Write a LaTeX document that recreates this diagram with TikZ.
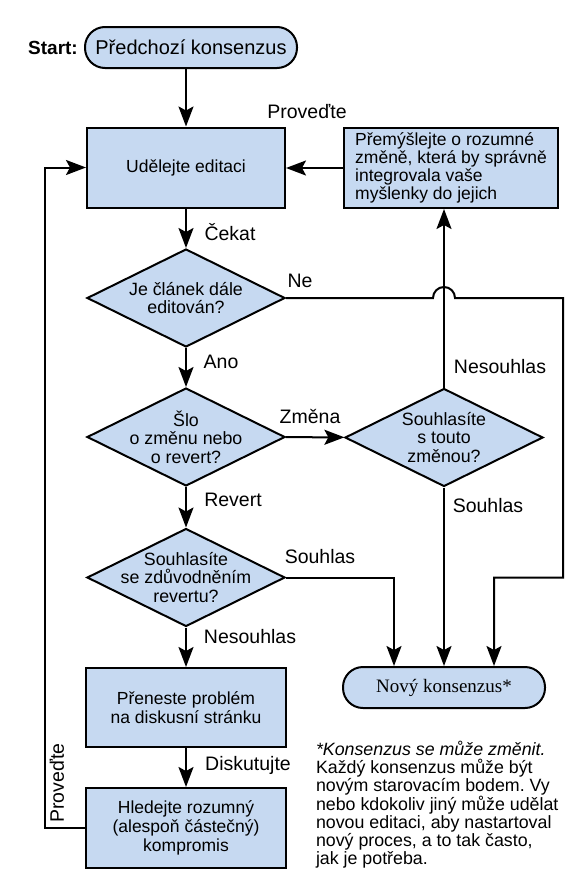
\documentclass[tikz,border=0pt]{standalone}
\usepackage{fontspec}
\setmainfont{Liberation Sans}
\newfontfamily\serifnk{Liberation Serif}
\usetikzlibrary{shapes.geometric,arrows.meta}
\definecolor{boxblue}{RGB}{198,217,241}
\frenchspacing
\begin{document}
\begin{tikzpicture}[x=1pt,y=-1pt,
  line width=2pt,
  box/.style={draw,fill=boxblue,rectangle,minimum width=198pt,minimum height=80pt,inner sep=0pt,align=center,font=\fontsize{17.5}{19}\selectfont},
  term/.style={draw,fill=boxblue,rectangle,rounded corners=20pt,minimum height=41pt,inner sep=0pt},
  dia/.style={draw,fill=boxblue,diamond,minimum width=198pt,minimum height=98pt,inner sep=0pt},
  dtxt/.style={align=center,font=\fontsize{17.8}{18.5}\selectfont,inner sep=0pt},
  lab/.style={font=\fontsize{19.5}{22}\selectfont,inner sep=0pt},
  arr/.style={-{Stealth[length=20pt,width=15pt,inset=4pt]}}]
\useasboundingbox (0,0) rectangle (585,870);

% nodes
\node[font=\bfseries\fontsize{19}{22}\selectfont,inner sep=0pt] (startlab) at (53,48) {Start:};
\node[term,minimum width=212pt,font=\fontsize{20}{22}\selectfont] (st) at (191,47.5) {Předchozí konsenzus};
\node[box] (ud) at (186,167.5) {Udělejte editaci};
\node[box,minimum width=214pt,align=left,font=\fontsize{17.5}{18}\selectfont] (pm) at (451,168) {Přemýšlejte o rozumné\\změně, která by správně\\integrovala vaše\\myšlenky do jejich};
\node[dia] (d1) at (186,298) {};
\node[dtxt] (t1) at (d1) {Je článek dále\\editován?};
\node[dia] (d2) at (186,437) {};
\node[dtxt] (t2) at (d2) {Šlo\\o změnu nebo\\o revert?};
\node[dia] (d3) at (444,437.5) {};
\node[dtxt] (t3) at (d3) {Souhlasíte\\s touto\\změnou?};
\node[dia] (d4) at (186,577.5) {};
\node[dtxt] (t4) at (d4) {Souhlasíte\\se zdůvodněním\\revertu?};
\node[box,minimum width=200pt,minimum height=79pt] (b5) at (186,707.5) {Přeneste problém\\na diskusní stránku};
\node[box,minimum width=200pt] (b6) at (186,828) {Hledejte rozumný\\(alespoň částečný)\\kompromis};
\node[term,minimum width=202pt,font=\fontsize{19}{22}\serifnk] (nk) at (444,687.5) {Nový konsenzus*};
\node[anchor=north west,align=left,inner sep=0pt,font=\fontsize{17.8}{18}\selectfont] (note) at (315,740) {\textit{*Konsenzus se může změnit.}\\Každý konsenzus může být\\novým starovacím bodem. Vy\\nebo kdokoliv jiný může udělat\\novou editaci, aby nastartoval\\nový proces, a to tak často,\\jak je potřeba.};

% helper coordinates
\coordinate (fbx) at (45,0);
\coordinate (sx) at (394,0);
\coordinate (nex) at (563,0);
\coordinate (nx2) at (494,0);
\coordinate (jl) at ([xshift=-11pt]d1.east -| d3);

% connectors
\draw[arr] (st.south -| ud.north) -- (ud.north);
\draw[arr] (pm.west) -- (pm.west -| ud.east);
\draw[arr] (ud) -- (d1);
\draw[arr] (d1) -- (d2);
\draw[arr] (d2) -- (d4);
\draw[arr] (d2) -- (d3);
\draw[arr] (d3) -- (d3 |- pm.south);
\draw[arr] (d3) -- (d3 |- nk.north);
\draw[arr] (d4) -- (b5);
\draw[arr] (b5) -- (b6);
\draw[arr] (b6.west) -- (b6.west -| fbx) -- (ud.west -| fbx) -- (ud.west);
\draw[arr] (d4.east) -- (d4.east -| sx) -- (sx |- nk.north);
\draw[arr] (d1.east) -- (jl) arc[start angle=180,end angle=0,radius=11pt] -- (d1.east -| nex) -- (nex |- d4.east) -- (nx2 |- d4.east) -- (nx2 |- nk.north);

% labels
\node[lab] (lp1) at (307,112) {Proveďte};
\node[lab] (lck) at (230,232) {Čekat};
\node[lab] (lne) at (300,281) {Ne};
\node[lab] (lano) at (221,362) {Ano};
\node[lab] (lzm) at (310,416) {Změna};
\node[lab] (lns1) at (500,367) {Nesouhlas};
\node[lab] (lsh1) at (488,506) {Souhlas};
\node[lab] (lrv) at (233,500) {Revert};
\node[lab] (lsh2) at (320,557) {Souhlas};
\node[lab] (lns2) at (250,637) {Nesouhlas};
\node[lab] (ldk) at (248,765) {Diskutujte};
\node[lab,rotate=90] (lp2) at (57,783) {Proveďte};
\end{tikzpicture}
\end{document}
